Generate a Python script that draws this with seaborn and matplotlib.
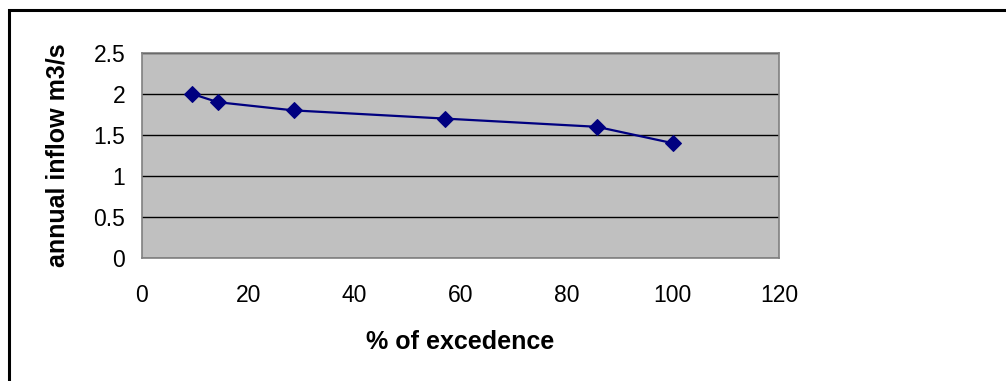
import matplotlib
matplotlib.use('Agg')
import matplotlib.pyplot as plt
import seaborn as sns
import pandas as pd
from matplotlib.patches import Rectangle

# % of excedence vs annual inflow (m3/s)
excedence = [9.5, 14.3, 28.6, 57.1, 85.7, 100.0]
inflow = [2.0, 1.9, 1.8, 1.7, 1.6, 1.4]
xticks = [0, 20, 40, 60, 80, 100, 120]
yticks = [0, 0.5, 1, 1.5, 2, 2.5]
yticklabels = ['0', '0.5', '1', '1.5', '2', '2.5']

df = pd.DataFrame({'excedence': excedence, 'inflow': inflow})

sns.set_theme(style='white')
plt.rcParams['font.family'] = ['Liberation Sans', 'DejaVu Sans']

fig = plt.figure(figsize=(10.06, 3.81), dpi=100)
ax = fig.add_axes([142/1006, 1-258/381, 637/1006, 205/381])
ax.set_facecolor('#c0c0c0')

sns.lineplot(data=df, x='excedence', y='inflow', ax=ax, color='#000080',
             marker='D', markersize=8, markeredgecolor='#000080',
             linewidth=1.6, zorder=3)

ax.set_xlim(0, 120)
ax.set_ylim(0, 2.5)
ax.set_xticks(xticks)
ax.set_yticks(yticks)
ax.set_yticklabels(yticklabels)
ax.yaxis.grid(True, color='black', linewidth=1)
ax.xaxis.grid(False)
ax.set_axisbelow(True)
for s in ax.spines.values():
    s.set_color('#808080')
    s.set_linewidth(1.2)
ax.tick_params(axis='both', direction='out', length=7, width=1.2, color='#808080',
               labelsize=16.5, labelcolor='black')
ax.tick_params(axis='x', pad=12)
ax.tick_params(axis='y', pad=5)

ax.set_xlabel('% of excedence', fontsize=18, fontweight='bold', color='black', labelpad=16)
ax.set_ylabel('annual inflow m3/s', fontsize=18, fontweight='bold', color='black', labelpad=17)

# outer chart frame (only top and left visible)
fig.patches.append(Rectangle((9/1006, -0.1), 1.2, (1-10.5/381) + 0.1,
                             transform=fig.transFigure, fill=False,
                             edgecolor='black', linewidth=2.2))

fig.savefig('out.png', dpi=100)
